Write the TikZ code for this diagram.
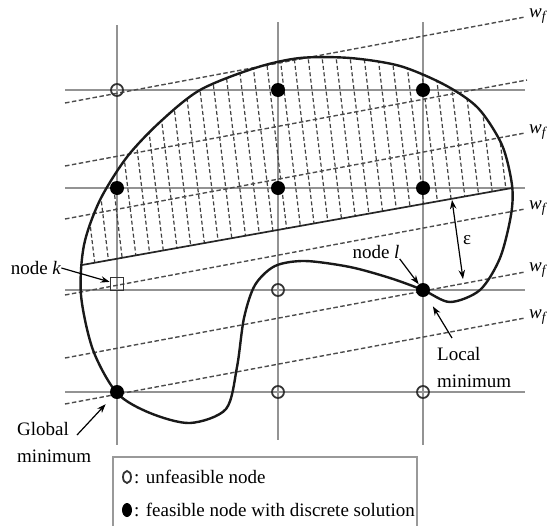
\documentclass[tikz,border=0pt]{standalone}
\usepackage{fontspec}
\setmainfont{Liberation Serif}
\usetikzlibrary{arrows.meta,shapes.geometric}

\begin{document}
\begin{tikzpicture}[x=1pt,y=-1pt,
    feas/.style={circle,fill=black,inner sep=0pt,minimum size=14pt},
    unfeas/.style={circle,draw=black!80,line width=1.8pt,inner sep=0pt,minimum size=12pt},
    gridline/.style={gray!85,line width=1.9pt},
    wline/.style={black!70,line width=1.4pt,dash pattern=on 4.5pt off 2.5pt},
    hatch/.style={black!75,line width=1.2pt,dash pattern=on 4pt off 2.5pt},
    lab/.style={font=\fontsize{19}{27.5}\selectfont,inner sep=0pt},
    arr/.style={-{Stealth[length=9pt,width=6.5pt]},line width=1.2pt}]
    \useasboundingbox (0,0) rectangle (548,525);

    \draw [gridline] (117,25)--(117,445);
    \draw [gridline] (278,22)--(278,440);
    \draw [gridline] (423,22)--(423,445);
    \draw [gridline] (65,90)--(525,90);
    \draw [gridline] (65,188)--(525,188);
    \draw [gridline] (65,290)--(525,290);
    \draw [gridline] (65,392)--(525,392);

    \begin{scope}
        \clip plot[smooth cycle] coordinates {(117,393) (150,413) (190,423) (226,409) (237,367) (244,318) (255,285) (275,266) (305,261) (350,267) (390,278) (423,290) (450,302) (480,290) (500,258) (511,215) (512,185) (502,145) (478,108) (445,85) (400,66) (350,58) (300,58) (255,68) (200,90) (160,122) (127,157) (100,200) (84,245) (81,295) (93,350)};
        \clip (0,280)--(548,182)--(548,0)--(0,0)--cycle;
        \foreach \x in {-30,-16,...,540}
            \draw [hatch] (\x,40)--++(48,400);
    \end{scope}

    \draw [wline] (65,103)--(525,17);
    \draw [wline] (65,166)--(527,80);
    \draw [wline] (65,219)--(525,133);
    \draw [wline] (65,295)--(525,209);
    \draw [wline] (65,358)--(525,272);
    \draw [wline] (65,404)--(525,318);

    \draw [black!90,line width=2.4pt] plot[smooth cycle] coordinates {(117,393) (150,413) (190,423) (226,409) (237,367) (244,318) (255,285) (275,266) (305,261) (350,267) (390,278) (423,290) (450,302) (480,290) (500,258) (511,215) (512,185) (502,145) (478,108) (445,85) (400,66) (350,58) (300,58) (255,68) (200,90) (160,122) (127,157) (100,200) (84,245) (81,295) (93,350)};
    \draw [black!85,line width=1.7pt] (82,265)--(512,188);

    \node[unfeas] (n11) at (117,90) {};
    \node[feas] (n12) at (278,90) {};
    \node[feas] (n13) at (423,90) {};
    \node[feas] (n21) at (117,188) {};
    \node[feas] (n22) at (278,188) {};
    \node[feas] (n23) at (423,188) {};
    \node[draw=black!80,line width=1.6pt,inner sep=0pt,minimum size=13pt] (k) at (117,284) {};
    \node[unfeas] (n32) at (278,290) {};
    \node[feas] (l) at (423,290) {};
    \node[feas] (gmin) at (117,392) {};
    \node[unfeas] (n42) at (278,392) {};
    \node[unfeas] (n43) at (423,392) {};

    \node[lab,anchor=west] (w1) at (529,16) {\textit{w}\textsubscript{\textit{f}}};
    \node[lab,anchor=west] (w2) at (529,132) {\textit{w}\textsubscript{\textit{f}}};
    \node[lab,anchor=west] (w3) at (529,208) {\textit{w}\textsubscript{\textit{f}}};
    \node[lab,anchor=west] (w4) at (529,270) {\textit{w}\textsubscript{\textit{f}}};
    \node[lab,anchor=west] (w5) at (529,317) {\textit{w}\textsubscript{\textit{f}}};

    \coordinate (e1) at (452,200);
    \coordinate (e2) at (463,279);
    \draw[{Stealth[length=9pt,width=6.5pt]}-{Stealth[length=9pt,width=6.5pt]},line width=1.2pt] (e1)--(e2);
    \node[lab] (eps) at (467,240) {ε};

    \node[lab] (lk) at (36,268) {node \textit{k}};
    \draw[arr] (lk.east)--(k);
    \node[lab] (ll) at (376,252) {node \textit{l}};
    \draw[arr] (ll.south east)--(l);
    \node[lab,align=left,anchor=north west] (lm) at (437,347) {Local\\minimum};
    \draw[arr,shorten >=12pt] ([xshift=15pt,yshift=9pt]lm.north west)--(l);
    \node[lab,align=left,anchor=north west] (gm) at (17,422) {Global\\minimum};
    \draw[arr,shorten >=9.5pt] ([xshift=60pt,yshift=-13pt]gm.north west)--(gmin);

    \draw[gray!80,line width=1.8pt] (113,457) rectangle (417,530);
    \node[draw=black!80,line width=1.8pt,ellipse,inner sep=0pt,minimum width=8pt,minimum height=12pt] (lgu) at (127,477) {};
    \node[fill=black,ellipse,inner sep=0pt,minimum width=10pt,minimum height=14pt] (lgf) at (127,510) {};
    \node[lab,anchor=west] (tu) at (134,477) {: unfeasible node};
    \node[lab,anchor=west] (tf) at (134,510) {: feasible node with discrete solution};
\end{tikzpicture}
\end{document}
